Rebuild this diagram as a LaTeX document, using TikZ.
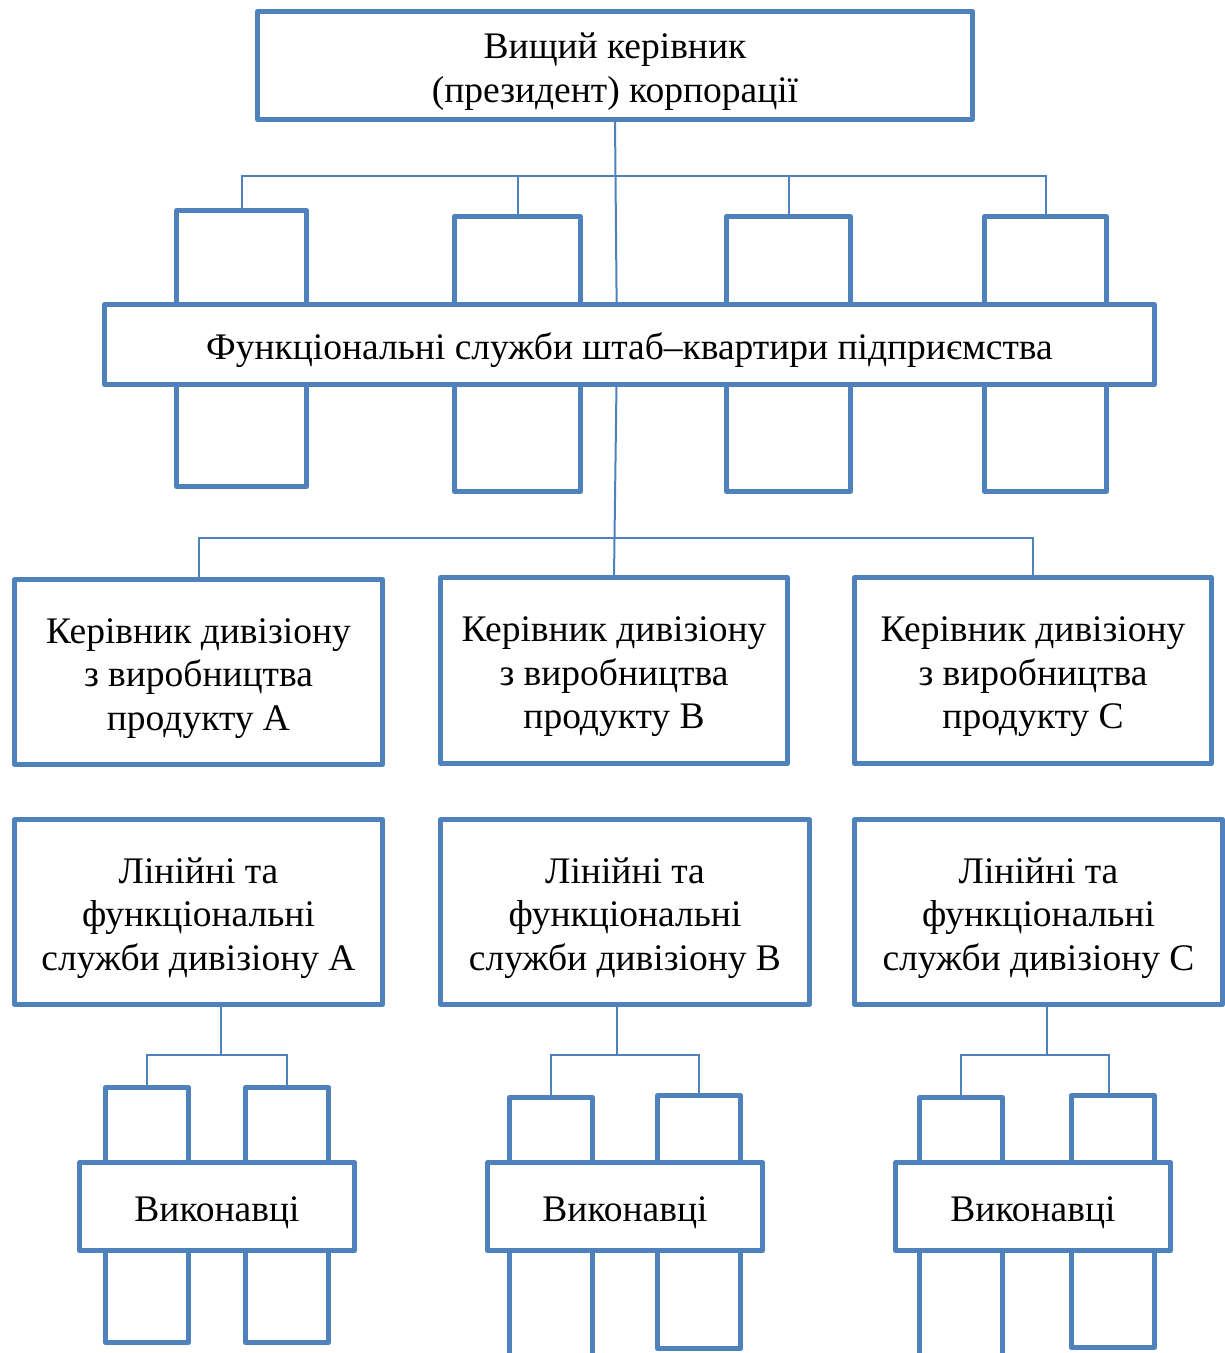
\documentclass[tikz,border=0pt]{standalone}
\usepackage{fontspec}
\setmainfont{Liberation Serif}
\definecolor{orgblue}{HTML}{4F81BD}
\pgfdeclarelayer{bg}
\pgfsetlayers{bg,main}
% strut that lowers the first text line a little inside its box
\newcommand\topgap{\rule{0pt}{38pt}}
\tikzset{
  box/.style={draw=orgblue, line width=5pt, line join=round, fill=white,
    inner sep=0pt, outer sep=0pt, align=center,
    font=\fontsize{37.5}{43.5}\selectfont},
  link/.style={draw=orgblue, line width=2pt}
}
\begin{document}
\begin{tikzpicture}[x=1pt,y=-1pt]
\useasboundingbox (0,0) rectangle (1225,1353);
\clip (0,0) rectangle (1225,1353);

% president
\node[box, minimum width=715pt, minimum height=108pt] (top) at (615,65.5)
  {\topgap Вищий керівник\\(президент) корпорації};

% headquarters service columns and the band across them
\node[box, minimum width=130pt, minimum height=276pt] (f1) at (241.5,348.5) {};
\node[box, minimum width=126pt, minimum height=275pt] (f2) at (517.5,354) {};
\node[box, minimum width=124pt, minimum height=275pt] (f3) at (788.5,354) {};
\node[box, minimum width=122pt, minimum height=275pt] (f4) at (1045.5,354) {};
\node[box, minimum width=1050pt, minimum height=80pt] (func) at (629.5,344.5)
  {\topgap Функціональні служби штаб–квартири підприємства};

% division heads
\node[box, minimum width=368pt, minimum height=185pt] (dA) at (198.5,672)
  {\topgap Керівник дивізіону\\з виробництва\\продукту А};
\node[box, minimum width=347pt, minimum height=186pt] (dB) at (614,670.5)
  {\topgap Керівник дивізіону\\з виробництва\\продукту В};
\node[box, minimum width=357pt, minimum height=186pt] (dC) at (1033,670.5)
  {\topgap Керівник дивізіону\\з виробництва\\продукту С};

% division services
\node[box, minimum width=368pt, minimum height=185pt] (sA) at (198.5,912)
  {\topgap Лінійні та\\функціональні\\служби дивізіону А};
\node[box, minimum width=369pt, minimum height=185pt] (sB) at (625,912)
  {\topgap Лінійні та\\функціональні\\служби дивізіону В};
\node[box, minimum width=368pt, minimum height=185pt] (sC) at (1038.5,912)
  {\topgap Лінійні та\\функціональні\\служби дивізіону С};

% executor columns
\node[box, minimum width=83pt, minimum height=255pt] (cA1) at (147,1215) {};
\node[box, minimum width=83pt, minimum height=255pt] (cA2) at (287,1215) {};
\node[box, minimum width=83pt, minimum height=277.5pt] (cB1) at (551,1236.25) {};
\node[box, minimum width=83pt, minimum height=253pt] (cB2) at (699,1222) {};
\node[box, minimum width=83pt, minimum height=277.5pt] (cC1) at (961,1236.25) {};
\node[box, minimum width=83pt, minimum height=252pt] (cC2) at (1113,1221.5) {};

% executor bands
\node[box, minimum width=275pt, minimum height=88pt] (eA) at (217,1206.5) {\topgap Виконавці};
\node[box, minimum width=275pt, minimum height=88pt] (eB) at (625,1206.5) {\topgap Виконавці};
\node[box, minimum width=275pt, minimum height=88pt] (eC) at (1033,1206.5) {\topgap Виконавці};

% junction points of the connectors
\coordinate (busF) at (615,176);
\coordinate (busD) at (615,538);
\coordinate (jA) at (221,1055);
\coordinate (jB) at (617,1055);
\coordinate (jC) at (1047,1055);
\coordinate (kC) at (1109,1055);

\begin{pgfonlayer}{bg}
  \draw[link] (top.south) -- (617,345) -- (dB.north);
  \draw[link] (f1.north) |- (busF) -| (f4.north);
  \draw[link] (f2.north) -- (f2.north |- busF);
  \draw[link] (f3.north) -- (f3.north |- busF);
  \draw[link] (dA.north) |- (busD) -| (dC.north);

  \draw[link] (sA.south -| jA) -- (jA);
  \draw[link] (cA1.north) |- (jA) -| (cA2.north);
  \draw[link] (sB.south -| jB) -- (jB);
  \draw[link] (cB1.north) |- (jB) -| (cB2.north);
  \draw[link] (sC.south -| jC) -- (jC);
  \draw[link] (cC1.north) |- (kC) -- (kC |- cC2.north);
\end{pgfonlayer}
\end{tikzpicture}
\end{document}
